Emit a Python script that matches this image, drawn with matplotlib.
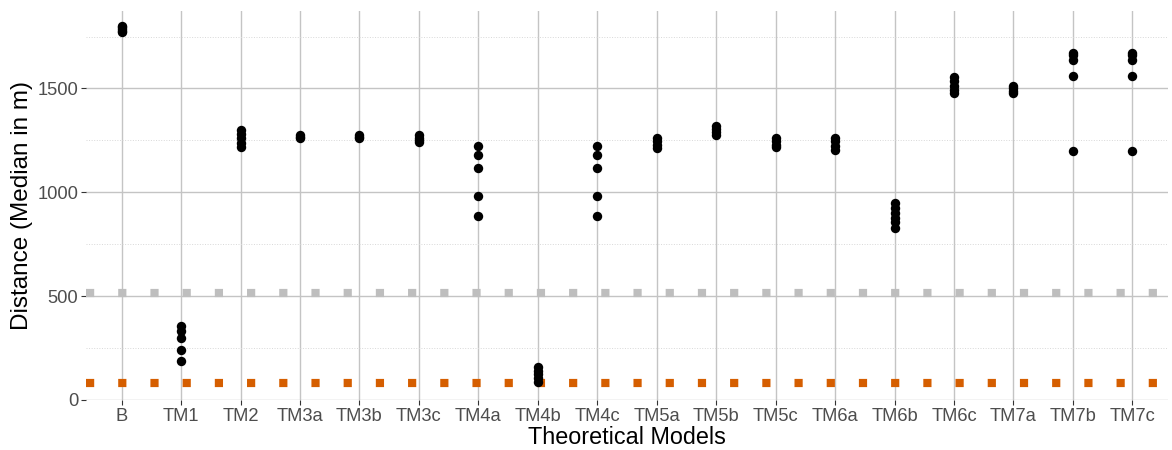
import matplotlib
matplotlib.use("Agg")
import matplotlib.pyplot as plt
import numpy as np

plt.rcParams['font.family'] = ['Liberation Sans', 'DejaVu Sans']

# model names on the x axis
models = ['B', 'TM1', 'TM2', 'TM3a', 'TM3b', 'TM3c', 'TM4a', 'TM4b', 'TM4c',
          'TM5a', 'TM5b', 'TM5c', 'TM6a', 'TM6b', 'TM6c', 'TM7a', 'TM7b', 'TM7c']

# median distances (m) per model
distances = [
    [1770, 1778, 1786, 1794, 1800],      # B
    [358, 330, 300, 242, 190],           # TM1
    [1302, 1282, 1260, 1238, 1218],      # TM2
    [1262, 1268, 1274],                  # TM3a
    [1262, 1268, 1274],                  # TM3b
    [1274, 1262, 1252, 1242],            # TM3c
    [1221, 1182, 1119, 982, 884],        # TM4a
    [160, 142, 124, 106, 88],            # TM4b
    [1221, 1182, 1119, 982, 884],        # TM4c
    [1262, 1246, 1230, 1215],            # TM5a
    [1320, 1305, 1290, 1275],            # TM5b
    [1262, 1246, 1230, 1218],            # TM5c
    [1262, 1245, 1225, 1202],            # TM6a
    [950, 925, 900, 878, 855, 828],      # TM6b
    [1556, 1536, 1512, 1492, 1480],      # TM6c
    [1510, 1500, 1490, 1480],            # TM7a
    [1670, 1660, 1636, 1560, 1200],      # TM7b
    [1670, 1660, 1636, 1560, 1200],      # TM7c
]

# reference levels (dashed square lines)
ref_grey = 516
ref_orange = 82

yticks = [0, 500, 1000, 1500]
yminor = [250, 750, 1250, 1750]

fig = plt.figure(figsize=(11.72, 4.5), dpi=100)
ax = fig.add_axes([86/1172, 50/450, (1168-86)/1172, (400-11)/450])

x = np.arange(1, len(models)+1)

for i, vals in enumerate(distances):
    ax.scatter([x[i]]*len(vals), vals, s=46, color='black', zorder=4, linewidths=0)

ax.axhline(ref_grey, color='#BEBEBE', lw=5.9, linestyle=(0, (1, 2.93)),
           dash_capstyle='butt', zorder=3)
ax.axhline(ref_orange, color='#D55E00', lw=5.9, linestyle=(0, (1, 2.93)),
           dash_capstyle='butt', zorder=3)

ax.set_xlim(0.4, 18.6)
ax.set_ylim(0, 1873)
ax.set_xticks(x)
ax.set_xticklabels(models)
ax.set_yticks(yticks)
ax.set_yticks(yminor, minor=True)
ax.tick_params(axis='y', which='minor', length=0)

ax.grid(True, which='major', color='#C4C4C4', lw=1.0, zorder=0)
ax.grid(True, which='minor', axis='y', color='#D8D8D8', lw=0.7, linestyle=':', zorder=0)
ax.set_axisbelow(True)

for s in ax.spines.values():
    s.set_visible(False)

ax.tick_params(axis='both', which='major', length=3.5, width=0.8, color='#333333',
               labelsize=13.2, labelcolor='#4D4D4D', pad=2)

ax.set_xlabel('Theoretical Models', fontsize=16.8, labelpad=1)
ax.set_ylabel('Distance (Median in m)', fontsize=17.5, labelpad=3)

fig.savefig('out.png', dpi=100)
